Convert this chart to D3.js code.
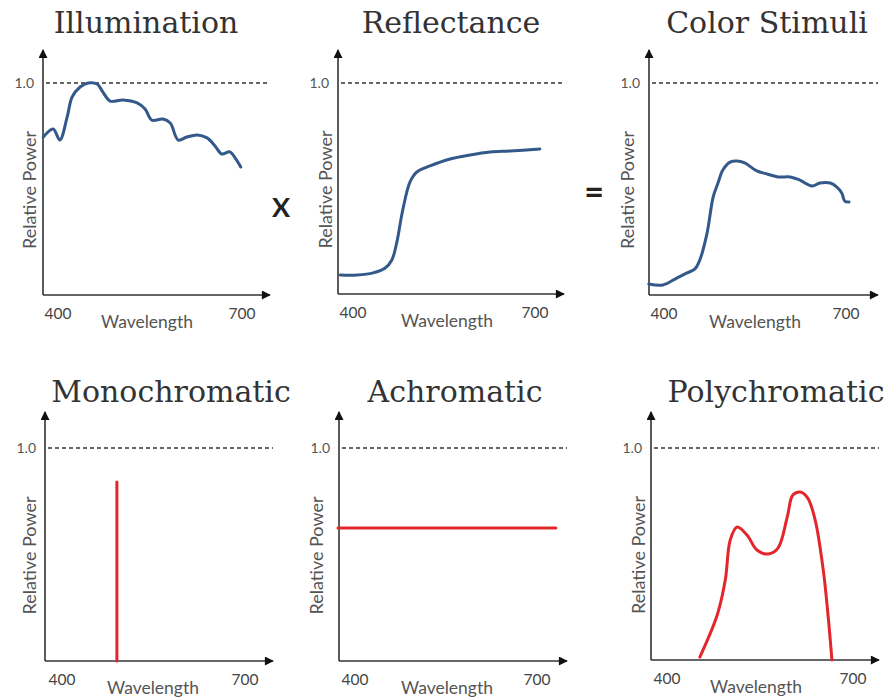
<!DOCTYPE html>
<html>
<head>
<meta charset="utf-8">
<script src="https://cdn.jsdelivr.net/npm/d3@7"></script>
<style>
  html, body { margin: 0; padding: 0; background: #fff; }
  svg { display: block; }
</style>
</head>
<body>
<svg id="chart" width="893" height="700"></svg>
<script>
// ---- Spectral curves (wavelength in nm, relative power 0..1) ----
const illumWavelength = [376, 392, 403, 415, 423, 436, 449, 464, 473, 485, 506, 529, 542, 553, 571, 583, 596, 610, 627, 643, 656, 667, 680, 689, 698];
const illumPower      = [0.745, 0.783, 0.731, 0.840, 0.934, 0.981, 1.0, 0.995, 0.958, 0.915, 0.920, 0.906, 0.877, 0.825, 0.830, 0.811, 0.731, 0.745, 0.755, 0.741, 0.703, 0.665, 0.675, 0.646, 0.604];

const reflWavelength = [379, 407, 433, 453, 464, 472, 482, 494, 505, 527, 560, 593, 626, 659, 708];
const reflPower      = [0.090, 0.090, 0.100, 0.123, 0.161, 0.242, 0.398, 0.531, 0.578, 0.607, 0.640, 0.659, 0.673, 0.678, 0.687];

const stimWavelength = [375, 398, 421, 438, 451, 459, 471, 481, 489, 497, 509, 520, 533, 553, 570, 588, 608, 624, 644, 657, 674, 685, 693, 698, 705];
const stimPower      = [0.052, 0.047, 0.080, 0.104, 0.123, 0.165, 0.292, 0.462, 0.528, 0.590, 0.627, 0.632, 0.623, 0.585, 0.571, 0.557, 0.557, 0.542, 0.514, 0.528, 0.528, 0.509, 0.481, 0.443, 0.439];

const monoWavelength = [490, 490];
const monoPower      = [0, 0.84];

const achroWavelength = [372, 731];
const achroPower      = [0.624, 0.624];

const polyWavelength = [453, 481, 494, 502, 513, 529, 545, 563, 579, 594, 603, 615, 627, 639, 652, 660, 666];
const polyPower      = [0.014, 0.212, 0.377, 0.566, 0.627, 0.590, 0.519, 0.500, 0.528, 0.675, 0.778, 0.792, 0.764, 0.660, 0.425, 0.203, 0];

// ---- Labels ----
const titles = ["Illumination", "Reflectance", "Color Stimuli", "Monochromatic", "Achromatic", "Polychromatic"];
const xTickLabels = ["400", "700"];
const xTickValues = [400, 700];
const yRefValue = 1.0;
const yRefLabel = "1.0";
const xAxisTitle = "Wavelength";
const yAxisTitle = "Relative Power";
const operators = ["X", "="];

// ---- Panel geometry ----
// ox: y-axis x, oy: x-axis y, top: arrow tip of y-axis, right: arrow tip of x-axis,
// yOne: pixel of power 1.0, x400/x700: pixel of the tick wavelengths, titleX: title centre
const panels = [
  { ox: 43,  oy: 295, top: 50,  right: 270, yOne: 83,  x400: 58,  x700: 242, titleX: 146, titleY: 33, wlX: 147,
    wl: illumWavelength, pw: illumPower, color: "#33588a", curve: d3.curveCatmullRom, ylabX: 30 },
  { ox: 338, oy: 294, top: 50,  right: 564, yOne: 83,  x400: 353, x700: 535, titleX: 451, titleY: 33, wlX: 447,
    wl: reflWavelength, pw: reflPower, color: "#33588a", curve: d3.curveCatmullRom, ylabX: 326 },
  { ox: 649, oy: 295, top: 50,  right: 878, yOne: 83,  x400: 664, x700: 846, titleX: 767, titleY: 33, wlX: 755,
    wl: stimWavelength, pw: stimPower, color: "#33588a", curve: d3.curveCatmullRom, ylabX: 628 },
  { ox: 45,  oy: 661, top: 412, right: 273, yOne: 448, x400: 62,  x700: 245, titleX: 171, titleY: 402, wlX: 153,
    wl: monoWavelength, pw: monoPower, color: "#e3262b", curve: d3.curveLinear, ylabX: 30 },
  { ox: 339, oy: 661, top: 412, right: 567, yOne: 448, x400: 355, x700: 537, titleX: 455, titleY: 402, wlX: 447,
    wl: achroWavelength, pw: achroPower, color: "#e3262b", curve: d3.curveLinear, ylabX: 317 },
  { ox: 651, oy: 660, top: 412, right: 879, yOne: 448, x400: 667, x700: 853, titleX: 776, titleY: 402, wlX: 756,
    wl: polyWavelength, pw: polyPower, color: "#e3262b", curve: d3.curveCatmullRom, ylabX: 639 }
];

const svg = d3.select("#chart");

const defs = svg.append("defs");
defs.append("marker")
  .attr("id", "arrow")
  .attr("viewBox", "0 0 10 10")
  .attr("refX", 9).attr("refY", 5)
  .attr("markerWidth", 11).attr("markerHeight", 9)
  .attr("markerUnits", "userSpaceOnUse")
  .attr("orient", "auto")
  .append("path")
  .attr("d", "M0,0 L10,5 L0,10 Z")
  .attr("fill", "#111");

const sans = "Lato, 'Open Sans', 'DejaVu Sans', sans-serif";
const serif = "'DejaVu Serif', 'Liberation Serif', serif";

panels.forEach((p, i) => {
  const g = svg.append("g");
  const x = d3.scaleLinear().domain(xTickValues).range([p.x400, p.x700]);
  const y = d3.scaleLinear().domain([0, 1]).range([p.oy, p.yOne]);

  // title
  g.append("text")
    .attr("x", p.titleX).attr("y", p.titleY)
    .attr("text-anchor", "middle")
    .attr("font-family", serif)
    .attr("font-size", 30)
    .attr("fill", "#333")
    .text(titles[i]);

  // reference line at 1.0
  g.append("line")
    .attr("x1", p.ox + 3).attr("x2", p.right)
    .attr("y1", y(yRefValue)).attr("y2", y(yRefValue))
    .attr("stroke", "#333").attr("stroke-width", 1.4)
    .attr("stroke-dasharray", "4,3");

  g.append("text")
    .attr("x", p.ox - 9).attr("y", y(yRefValue))
    .attr("dy", "0.35em")
    .attr("text-anchor", "end")
    .attr("font-family", sans).attr("font-size", 14)
    .attr("fill", "#555")
    .text(yRefLabel);

  // axes with arrow heads
  g.append("line")
    .attr("x1", p.ox).attr("y1", p.oy)
    .attr("x2", p.ox).attr("y2", p.top)
    .attr("stroke", "#333").attr("stroke-width", 1.6)
    .attr("marker-end", "url(#arrow)");
  g.append("line")
    .attr("x1", p.ox).attr("y1", p.oy)
    .attr("x2", p.right).attr("y2", p.oy)
    .attr("stroke", "#333").attr("stroke-width", 1.6)
    .attr("marker-end", "url(#arrow)");

  // tick labels
  g.selectAll(".tick")
    .data(xTickValues)
    .join("text")
    .attr("x", d => x(d)).attr("y", p.oy + 24)
    .attr("text-anchor", "middle")
    .attr("font-family", sans).attr("font-size", 15.5)
    .attr("fill", "#444")
    .text((d, k) => xTickLabels[k]);

  // axis titles
  g.append("text")
    .attr("x", p.wlX).attr("y", p.oy + 33)
    .attr("text-anchor", "middle")
    .attr("font-family", sans).attr("font-size", 17.5)
    .attr("fill", "#555")
    .text(xAxisTitle);
  g.append("text")
    .attr("transform", `translate(${p.ylabX},${(p.oy + p.yOne) / 2 + 1}) rotate(-90)`)
    .attr("dy", "0.35em")
    .attr("text-anchor", "middle")
    .attr("font-family", sans).attr("font-size", 18)
    .attr("fill", "#555")
    .text(yAxisTitle);

  // spectrum
  const pts = p.wl.map((w, k) => [w, p.pw[k]]);
  g.append("path")
    .datum(pts)
    .attr("fill", "none")
    .attr("stroke", p.color)
    .attr("stroke-width", 3)
    .attr("stroke-linejoin", "round")
    .attr("stroke-linecap", "round")
    .attr("d", d3.line().x(d => x(d[0])).y(d => y(d[1])).curve(p.curve));
});

// operators between the top panels
svg.append("text")
  .attr("x", 281).attr("y", 217)
  .attr("text-anchor", "middle")
  .attr("font-family", sans).attr("font-weight", "bold").attr("font-size", 27)
  .attr("fill", "#222")
  .text(operators[0]);
svg.append("text")
  .attr("x", 594).attr("y", 204)
  .attr("text-anchor", "middle")
  .attr("font-family", sans).attr("font-weight", "bold").attr("font-size", 34)
  .attr("fill", "#222")
  .text(operators[1]);
</script>
</body>
</html>
